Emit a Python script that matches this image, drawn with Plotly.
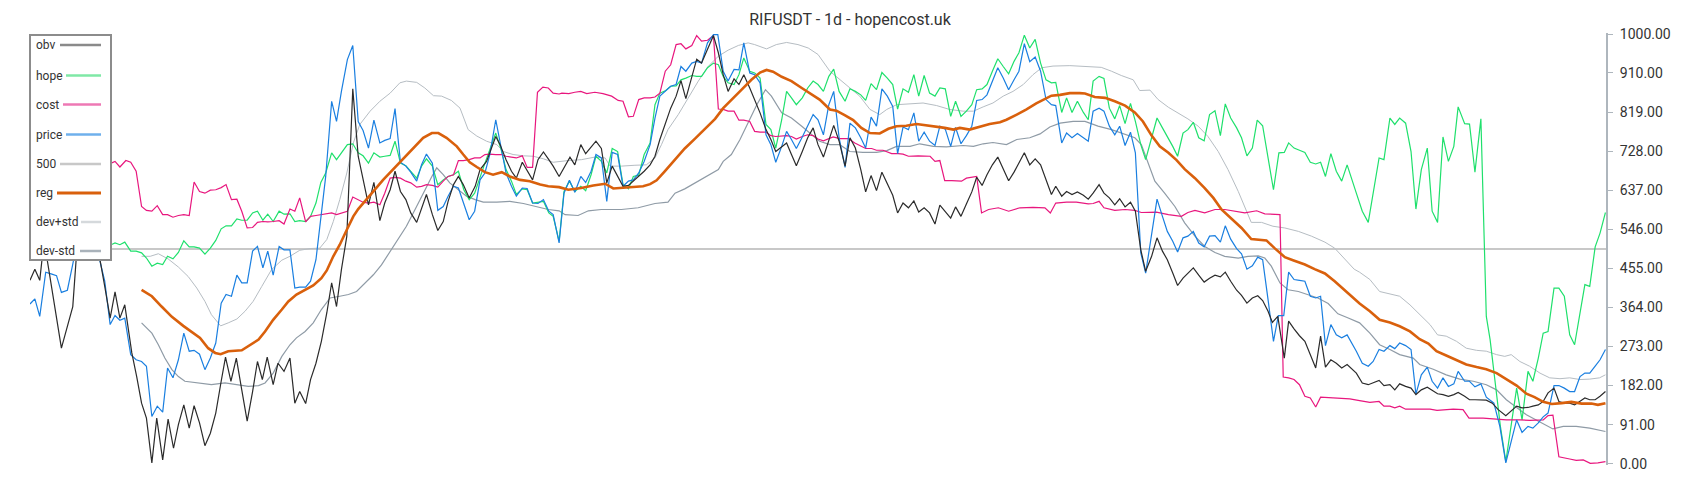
import plotly.graph_objects as go

# ---------------- data (day index, value on 0..1000 scale) ----------------
obv_day = [0,0.9,1.8,2.6,5.8,7.9,9,10,11,12,13.8,14.8,15.7,16.6,17.5,18.8,19.7,20.6,21.5,22.5,23.4,24.5,25.5,26.5,27.4,28.4,29.4,30.3,31.3,32.3,33.3,34.3,35.3,36.1,37.1,38.1,39.1,40.1,41.1,42,42.9,43.8,44.9,45.8,46.9,48,48.9,49.8,50.9,51.8,52.8,53.8,54.8,55.7,56.6,57.5,58.5,59.6,60.6,61.5,62.5,63.5,64.6,65.5,66.5,67.4,68.4,69.4,70.3,71.4,72.3,73.2,74.3,75.3,76.3,77.2,78.2,79.1,80,81.1,82.2,83.1,84.3,86,86.8,87.9,88.9,89.8,90.9,91.8,92.8,93.8,94.8,95.8,96.6,97.7,98.6,99.7,100.6,101.7,102.6,103.6,104.5,105.5,106.5,107.5,108.5,109.5,110.5,111.4,112.4,113.4,114.5,115.4,116.3,117.4,118.3,119.3,120.2,121.1,122.2,123.1,124,125.1,126.2,127.1,128,128.9,130,130.9,131.8,132.9,133.8,134.8,135.9,136.8,137.7,138.8,139.7,140.6,141.5,142.6,143.6,144.6,145.5,146.5,147.5,148.4,149.4,150.5,151.4,152.4,153.4,154.3,155.3,156.3,157.3,158.3,159.3,160.2,161.2,162.2,163.2,164.1,165.1,166.1,167.1,168,169,170,170.9,171.9,172.9,173.9,174.8,175.8,176.7,177.7,178.7,179.7,180.7,181.7,182.6,183.6,184.6,185.6,186.6,187.6,188.6,189.4,190.5,191.4,192.4,193.4,194.5,195.4,196.3,197.4,198.3,199.3,200.3,201.2,202.2,203.2,204.1,205.1,206,207.1,208.1,209.1,210,211,211.9,212.9,213.8,214.8,215.8,216.8,217.8,218.8,219.8,220.7,221.7,222.8,223.7,224.7,225.7,226.7,227.6,228.6,229.4,230.4,231.6,232.4,233.4,234.4,235.4,236.4,237.4,238.3,239.2,240.2,241.2,242.2,243.2,244.9,246,247.1,248,249.1,250,251.1,252,252.9,254,255,255.9,256.9,258,258.9,259.9,260.9,261.9,262.9,263.7,264.9,265.8,266.8,267.9,268.9,270,271.1,272.5,273.5,274.5,275.5,276.6,277.5,278.5,279.4,280.3,281.4,282.3,283.3,284.3,285.2,286.2,287.1,288,289,289.9,290.9]
obv = [427,453,427,520,269,366,560,620,600,540,413,339,400,339,370,258,203,141,106,2,106,9,104,36,91,137,83,135,95,42,71,118,192,248,192,246,172,99,168,238,196,248,184,234,215,246,141,168,140,196,234,285,351,421,366,452,530,873,716,661,603,655,566,607,638,681,634,615,584,562,595,627,580,543,564,611,650,669,650,619,646,685,704,762,743,708,681,665,702,681,661,708,726,708,693,669,689,714,696,743,722,738,751,734,654,693,669,646,648,658,669,681,696,716,755,793,828,856,892,850,898,942,933,964,997,957,906,867,896,883,906,875,848,817,778,755,727,739,747,720,694,727,759,782,743,714,751,788,751,693,759,735,685,633,671,636,679,650,625,584,607,596,612,586,596,584,558,602,588,572,598,576,605,633,667,648,673,696,714,687,659,679,699,724,696,710,696,661,627,646,623,634,627,633,625,616,630,650,630,619,603,617,598,609,588,498,448,483,526,495,475,444,415,432,444,456,439,423,432,439,435,446,425,404,392,374,386,391,380,355,329,343,246,332,314,298,285,254,223,297,225,242,234,223,231,211,188,184,188,194,182,184,172,186,180,176,161,172,178,170,163,161,157,161,166,157,149,149,149,148,141,126,112,122,134,130,131,134,137,145,165,176,145,141,141,137,145,153,149,149,157,168]

hope_day = [0,3,6,9,12,15,15.7,16.6,17.5,18.6,19.6,20.6,21.5,22.5,23.5,24.5,25.4,26.4,27.4,28.4,29.4,30.3,31.3,32.3,33.3,34.3,35.3,36.2,37.2,38.2,39.1,40.1,41.1,42,43,43.9,44.9,46,46.9,48,48.9,49.8,50.9,51.8,52.8,53.7,54.6,55.7,56.6,57.5,58.6,59.6,60.6,61.5,62.5,63.5,64.6,65.5,66.5,67.4,68.4,69.4,70.3,71.4,72.3,73.2,74.3,75.3,76.3,77.2,78.2,79.1,80.1,81.1,82.1,83.1,84,84.9,86,87,87.9,88.9,89.8,90.9,91.8,92.8,93.8,94.8,95.8,96.6,97.7,98.6,99.6,100.6,101.7,102.6,103.6,104.5,105.5,106.5,107.5,108.5,109.5,110.5,111.4,112.4,113.4,114.5,115.4,116.3,117.4,118.3,119.3,120.2,121.1,122.2,123.1,124,125.1,126.2,127.1,128,128.9,130,130.9,131.8,132.9,133.8,134.8,135.9,136.8,137.7,138.8,139.7,140.6,141.5,142.6,143.6,144.6,145.5,146.5,147.5,148.4,149.4,150.5,151.4,152.4,153.4,154.3,155.3,156.3,157.3,158.3,159.3,160.2,161.2,162.2,163.2,164.1,165.1,166.1,167.1,168,169,170,170.9,171.9,172.9,173.9,174.8,175.8,176.7,177.7,178.7,179.7,180.7,181.7,182.6,183.6,184.6,185.6,186.6,187.6,188.6,189.4,190.5,191.4,192.4,193.4,194.5,195.4,196.3,197.4,198.3,199.3,200.3,201.2,202.2,203.2,204.1,205.1,206,207.1,208.1,209.1,210,211,211.9,212.9,213.8,214.8,215.8,216.8,217.8,218.8,219.8,220.7,221.7,222.8,223.7,224.7,225.7,226.6,227.6,228.6,229.6,230.6,231.6,232.4,233.4,234.4,235.4,236.4,237.4,238.3,239.2,240.2,241.2,242.2,243.2,244.9,246,247.1,248,249.1,250,251.1,252,252.9,254,255,255.9,256.9,258,258.9,259.9,260.9,261.9,262.9,263.7,264.9,265.8,266.8,267.9,268.9,269.6,270.7,271.5,272.5,273.5,274.5,275.5,276.6,277.5,278.5,279.4,280.3,281.4,282.3,283.3,284.3,285.2,286.2,287.1,288,289,289.9,290.9]
hope = [520,530,515,525,520,510,514,510,516,495,495,491,479,460,467,464,483,477,492,519,505,505,502,488,502,520,547,554,554,570,567,567,584,588,567,581,564,588,581,582,564,566,564,576,607,655,677,724,708,724,743,745,724,717,700,724,714,716,718,751,700,694,682,665,693,710,693,650,661,669,673,681,638,615,630,669,700,731,770,731,685,658,627,640,638,607,609,611,584,576,518,634,658,634,646,636,673,716,704,677,734,727,650,640,669,672,720,747,836,863,869,879,880,894,898,904,902,902,922,933,929,902,887,883,906,945,914,910,898,790,778,735,801,867,852,836,852,875,891,883,867,902,919,867,844,873,867,859,846,885,871,911,898,883,826,873,865,906,856,904,863,856,875,873,809,844,809,821,836,871,873,883,914,943,925,908,937,957,998,968,988,933,894,887,888,818,852,818,844,818,801,891,902,897,828,803,834,792,839,797,743,708,759,805,782,762,739,716,770,778,795,759,752,813,822,764,838,805,782,759,717,735,800,787,716,638,724,725,747,735,730,725,702,698,702,669,722,681,658,696,630,588,562,627,712,708,805,790,805,793,727,593,685,735,588,562,761,704,739,831,792,791,679,803,343,289,172,87,5,95,176,102,215,192,246,304,308,409,409,390,300,277,351,417,413,505,537,585]

cost_day = [0,3,6,9,12,15,15.7,16.6,17.7,18.6,19.6,20.6,21.5,22.5,23.5,24.5,25.4,26.4,27.4,28.4,29.4,30.3,31.3,32.3,33.3,34.3,35.3,36.2,37.2,38.2,39.1,40.1,41.1,42,43,43.9,44.9,46,46.9,48,48.9,49.8,50.9,51.8,52.8,53.7,54.6,55.7,56.6,57.5,58.6,59.6,60.6,61.5,62.5,63.5,64.6,65.5,66.5,67.4,68.4,69.4,70.3,71.4,72.3,73.2,74.3,75.3,76.3,77.2,78.2,79.1,80,81.1,82.1,83.1,84,84.9,86,87,87.9,88.9,89.8,90.9,91.8,92.8,93.7,94.7,95.7,96.6,97.7,98.2,99.5,100.6,101.7,102.8,104.3,105.8,107.4,108.6,109.5,110.5,111.4,112.4,113.4,114.5,115.4,116.3,117.3,118.3,119.3,120.2,121.1,122.2,123.1,124,125.1,126.2,127.1,128,128.9,130,130.9,131.8,132.9,133.8,134.8,135.9,136.8,137.7,138.8,139.7,140.6,141.5,142.6,143.6,144.6,145.5,146.5,148.3,149.5,151.1,152.3,154.3,155.4,156.3,157.5,159.1,160.3,161.2,162.2,164,166.2,167.1,168,168.9,170.2,172,172.9,174.8,175.7,177,178.8,180.7,182.8,185.2,187.4,188.4,189.4,191.4,193.2,195.4,196.3,197.4,198.3,200.3,202.2,204,205.2,208,210.2,212.6,213.8,215.1,216.9,218.8,220.6,222.5,224.3,226.5,228,230.8,231.4,232.4,233.4,234.4,235.4,236.4,237.4,238.3,240.3,242.2,243.7,245.5,247.4,249.1,250,251.1,252,252.9,254,256,258.5,259.8,261.5,262.8,264.6,265.7,268.3,270.8,272.6,275.1,276.9,279.4,280.3,281.2,282.3,284.3,285.5,286.8,288.1,289.5,290.9]
cost = [700,705,690,700,705,700,704,691,706,702,681,599,590,588,601,580,580,574,578,580,578,656,634,630,637,638,643,650,615,616,588,549,550,562,564,563,564,566,558,593,588,619,563,576,578,580,582,584,580,584,588,621,615,609,607,609,603,630,665,667,665,658,654,644,646,650,648,644,658,669,673,706,706,708,712,712,720,721,720,720,716,714,712,717,690,690,865,877,875,863,861,863,862,865,867,862,865,862,856,846,844,808,809,848,852,852,854,863,914,929,976,978,966,974,997,984,986,997,826,825,821,821,800,800,797,774,772,772,764,762,764,764,762,756,762,766,764,756,752,761,757,757,747,734,734,730,730,722,722,721,716,717,716,704,706,659,659,658,665,669,584,592,596,588,596,597,596,584,607,609,609,605,606,611,596,590,592,590,585,586,580,576,585,590,584,592,592,588,584,589,582,580,202,200,196,184,157,153,132,155,153,151,151,147,143,145,134,134,130,134,127,127,127,124,126,127,126,106,106,104,102,102,101,102,112,113,16,11,8,9,1,2,5]

price_day = [0,0.9,1.8,2.9,3.9,4.9,5.8,6.9,7.9,9,10,11,12,13.8,14.8,15.7,16.6,17.5,18.6,19.6,20.6,21.5,22.5,23.5,24.5,25.4,26.4,27.4,28.4,29.4,30.3,31.3,32.3,33.3,34.3,35.3,36.2,37.2,38.2,39.1,40.1,41.1,42,43,43.9,44.9,46,46.9,48,48.9,49.8,50.9,51.8,52.8,53.7,54.6,55.7,56.6,57.5,58.6,59.6,60.6,61.5,62.5,63.5,64.6,65.5,66.5,67.4,68.4,69.4,70.3,71.4,72.3,73.2,74.3,75.3,76.3,77.2,78.2,79.1,80.1,81.1,82.1,83.1,84,84.9,86,87,87.9,88.9,89.8,90.9,91.8,92.8,93.8,94.8,95.8,96.6,97.7,98.6,99.6,100.6,101.7,102.6,103.6,104.5,105.5,106.5,107.5,108.5,109.5,110.5,111.4,112.4,113.4,114.5,115.4,116.3,117.4,118.3,119.3,120.2,121.1,122.2,123.1,124,125.1,126.2,127,128,128.9,130,130.9,131.8,132.9,133.8,134.8,135.9,136.8,137.7,138.8,139.7,140.6,141.5,142.6,143.6,144.6,145.5,146.5,147.5,148.4,149.4,150.5,151.4,152.4,153.4,154.3,155.3,156.3,157.3,158.3,159.3,160.2,161.2,162.2,163.2,164.1,165.1,166.1,167.1,168,169,170,170.9,171.9,172.9,173.9,174.8,175.8,176.7,177.7,178.7,179.7,180.7,181.7,182.6,183.6,184.6,185.6,186.6,187.6,188.6,189.4,190.5,191.4,192.4,193.4,194.5,195.4,196.3,197.4,198.3,199.3,200.3,201.2,202.2,203.2,204.1,205.1,206,207.1,208.1,209.1,210,211,211.9,212.9,213.8,214.8,215.8,216.8,217.8,218.8,219.8,220.7,221.7,222.8,223.7,224.7,225.7,226.7,227.6,228.6,229.6,230.5,231.5,232.4,233.4,234.4,235.4,236.4,237.4,238.3,239.2,240.2,241.2,242.2,243.2,244.9,246,247.1,248,249.1,250,251.1,252,252.9,254,255,255.9,256.9,258,258.9,259.9,260.9,261.9,262.9,263.7,264.9,265.8,266.8,267.9,268.9,270.3,271.4,272.5,273.5,274.5,275.5,276.6,277.5,278.5,279.4,280.3,281.4,282.3,283.3,284.3,285.2,286.2,287.1,288,289,289.9,290.9]
price = [372,384,343,446,442,438,399,404,465,540,600,580,520,425,324,345,334,339,254,242,238,227,110,134,120,223,200,242,304,262,264,255,219,246,281,374,394,390,439,421,421,495,506,456,495,439,506,498,498,409,411,411,425,475,580,669,844,797,867,941,974,797,776,735,800,747,753,757,827,702,693,679,658,696,721,700,590,599,623,646,642,607,568,588,661,677,720,801,731,677,646,623,642,641,607,606,615,588,580,514,630,660,632,669,655,681,720,712,611,725,720,646,658,661,677,704,743,805,856,870,879,883,925,914,933,937,933,980,999,999,914,891,918,917,980,910,906,887,766,743,702,739,774,755,734,761,787,813,801,766,836,867,759,690,793,782,759,735,807,786,873,856,832,722,784,778,817,751,772,751,741,786,779,739,783,745,764,786,846,848,859,891,922,898,871,894,914,978,936,947,914,848,836,834,747,770,759,769,759,751,821,828,821,786,766,786,741,772,724,491,444,530,616,576,541,518,493,526,530,541,514,505,530,531,516,554,523,501,489,453,461,481,475,382,285,345,345,446,429,427,425,390,386,390,275,324,300,293,300,262,234,227,238,266,262,275,268,281,275,266,162,207,225,192,176,200,180,186,215,192,192,179,186,155,141,87,2,52,102,73,87,83,95,109,118,182,182,176,168,168,203,211,211,227,242,266]

level_day = [0, 291]
level_500 = [500, 500]

reg_day = [20.6,22.5,24.3,26.2,28.3,29.8,31.4,32.9,34.2,35.2,36.6,39.1,40.3,42.2,43.4,44.9,46.5,47.7,49.2,50.8,52.3,53.8,54.8,56,57.2,58.5,59.7,60.6,61.5,63.4,65.2,67.1,68.9,70.8,72.6,74.2,75.4,76.9,78.8,80,81.2,82.5,84,85.5,87.1,88.6,90.5,92.3,94.2,95.7,97.7,99.4,101.8,104,106.2,107.7,109.2,111.1,113.2,114.5,115.7,117.2,119.1,120.9,122.8,124.6,126.5,128,129.5,131.4,133.2,134.8,136,137.2,138.8,140.6,142.5,144.3,145.8,147.7,148.9,150.5,152,153.5,155.1,156.9,158.5,160,161.8,163.7,165.5,167.4,168.9,170.5,171.7,173.5,175.4,177.2,179.1,180.3,182.2,184,185.8,187.1,188.6,190.2,192,193.8,194.8,196.6,198.5,200.3,202.2,204,205.5,207.1,208.6,210.2,211.7,213.2,215.1,216.9,218.5,220,221.8,223.7,225.5,227.1,228.3,229.8,231.7,233.2,235.4,237.2,239.1,240.9,242.8,243.7,245.5,247.4,249.2,251.1,252.9,254.8,256.6,258.2,259.7,261.5,263.4,265.2,267.1,268.9,270.8,272.6,274.5,276.3,277.8,279.4,281,282.8,284.6,286.5,288.3,289.5,290.9]
reg = [405,390,366,342,321,308,293,269,258,255,262,264,273,289,308,335,359,378,394,404,415,432,450,483,510,545,576,593,607,634,661,686,712,735,759,770,770,759,739,720,702,691,679,673,679,669,661,658,650,646,644,638,642,648,652,641,642,644,646,651,660,681,708,734,757,780,803,828,846,871,894,911,917,913,901,891,875,860,848,825,822,811,800,782,770,769,780,786,787,791,788,786,782,778,782,778,784,791,795,801,813,825,839,848,857,859,863,863,862,854,852,844,834,818,797,764,739,724,707,686,665,642,619,592,570,549,523,522,520,502,481,474,464,453,443,425,404,394,373,355,335,329,320,308,290,280,262,252,241,231,225,220,211,197,182,163,155,144,139,141,144,140,140,137,141]

up_day = [20.6,22.2,23.7,25.5,27.4,29.2,30.8,32.3,33.5,35.2,36.6,38.2,39.7,41.2,42.8,44.6,46.5,48,49.8,51.7,53.5,54.8,56,57.2,58.5,59.7,60.9,62.8,64.6,66.5,68.3,69.5,71.4,72.9,74.5,76,77.8,79.4,80.9,82.5,84.3,86.2,87.4,89.2,91.1,92.9,94.8,96.6,99.4,101.8,104.3,106.2,107.1,109.2,111.7,113.8,115.4,116.6,117.8,119.7,121.5,123.4,125.2,127.1,128.9,130.8,132.6,133.8,136,137.8,139.7,141.8,143.7,145.5,147.7,149.5,151.4,153.2,155.1,156.9,158.2,160,162.5,164.9,167.4,169.8,172.3,174.2,176,177.8,179.7,181.5,183.4,185.2,186.8,188.9,192,195.6,197.8,199.7,201.5,203.7,204.9,206.8,208.3,210.2,212,213.8,215.7,217.5,219.4,221.2,223.1,224.3,225.5,227.4,229.5,231.7,234.2,236.6,239.1,240.9,242.8,244.5,245.5,247.4,249.2,251.1,252.9,254.8,256.6,258.5,259.9,261.5,263.4,265.2,267.1,268.9,270.8,272.3,273.5,275.1,276.9,278.8,280.6,282.5,284.3,286.2,288,289.8,290.9]
dev_up = [483,483,489,477,458,436,409,378,347,321,328,337,355,378,413,452,474,483,497,501,502,522,564,615,677,747,790,821,844,863,887,891,888,875,857,856,846,828,778,763,751,743,727,720,717,716,710,702,706,708,714,712,693,693,695,696,712,743,778,813,851,891,925,949,963,974,980,976,966,976,981,976,968,953,914,896,875,856,825,813,825,836,838,840,834,825,821,821,831,840,856,867,883,906,922,926,927,925,923,914,904,894,869,870,848,830,817,803,786,762,727,685,634,599,562,562,553,549,541,530,516,502,475,453,446,429,401,396,390,370,347,324,300,297,285,269,264,262,254,250,254,238,227,211,200,198,200,196,197,200,207]

lo_day = [20.6,22.5,23.7,24.9,26.2,27.4,28.6,31.1,33.5,36,38.5,40.3,42.2,43.4,44.9,46.5,48,49.2,50.8,52.3,53.8,55.4,57.2,58.8,60.3,61.8,63.4,64.9,66.5,68,69.5,71.1,72.6,74.2,75.1,76.3,77.5,79.1,80.6,82.2,83.7,86.2,88.6,91.1,93.5,95.7,97.7,98.8,101.2,103.1,105.5,109.2,112.3,115.4,117.8,119.1,120.9,122.8,125.2,127.1,128,129.5,131.1,132.6,134.2,135.8,136.9,138.8,140.6,142.5,144.3,145.8,147.7,149.5,151.4,153.8,156.3,158.2,160,162.5,164.3,166.8,169.2,171.1,172.3,174.2,176,177.8,180.3,182.2,184.6,186.5,188.3,190.2,192.6,194.8,197.2,199.7,202.2,204,205.2,206.5,207.7,209.5,211.4,213.2,215.1,216.9,218.8,220.6,223.1,224.9,226.8,228,229.2,230.8,232.3,234.2,236,237.8,239.7,241.5,243.3,245.5,247.4,249.2,251.1,252.9,255.4,256.6,259.1,261.5,264,266.5,268.9,270.8,272.6,274.5,276.3,278.2,280,281.2,283.1,285.5,288,290.9]
dev_lo = [328,304,277,246,219,203,192,188,184,188,184,180,182,188,211,250,277,293,308,328,359,386,390,394,401,421,440,463,495,526,553,592,630,669,689,673,654,638,623,615,609,609,611,606,599,592,589,580,578,589,592,592,596,606,609,630,640,654,673,685,704,720,755,793,836,871,856,817,805,786,766,751,743,743,727,725,725,729,739,739,745,739,738,739,741,739,745,748,743,755,759,768,784,793,797,797,786,778,766,759,743,700,658,630,599,561,530,506,492,483,479,483,484,479,460,421,405,401,394,386,373,349,340,328,304,277,266,254,246,231,220,207,197,192,184,172,149,130,114,101,89,81,87,87,83,75]

tick_vals = [0, 91, 182, 273, 364, 455, 546, 637, 728, 819, 910, 1000]
tick_text = ["%.2f" % v for v in tick_vals]

series_names = ["obv", "hope", "cost", "price", "500", "reg", "dev+std", "dev-std"]

# ---------------- styles ----------------
FONT = "Roboto, 'Noto Sans', sans-serif"
C_OBV, C_HOPE, C_COST, C_PRICE = "#2b2b2b", "#1fe06c", "#e8177e", "#1a7fe0"
C_500, C_REG, C_UP, C_LO = "#c8c8c8", "#d9600c", "#b6bdc3", "#8f9ba6"

fig = go.Figure()

def add(x, y, color, width):
    fig.add_trace(go.Scatter(x=x, y=y, mode="lines", line=dict(color=color, width=width),
                             hoverinfo="skip", showlegend=False))

add(level_day, level_500, C_500, 2)
add(up_day, dev_up, C_UP, 1)
add(lo_day, dev_lo, C_LO, 1.2)
add(hope_day, hope, C_HOPE, 1.2)
add(cost_day, cost, C_COST, 1.2)
add(price_day, price, C_PRICE, 1.2)
add(obv_day, obv, C_OBV, 1.2)
add(reg_day, reg, C_REG, 2.6)

# ---------------- layout ----------------
# the page body has an 8px margin; figure sized so page stays 1700x500
OFF = 8
W, H = 1700 - 2 * OFF, 500 - 2 * OFF
ML, MR, MT, MB = 30 - OFF, 86, 33 - OFF, 27
PW, PH = W - ML - MR, H - MT - MB

def px2x(px):          # page pixel -> paper x
    return (px - OFF - ML) / PW

def py2y(py):          # page pixel -> paper y
    return (H - MB - (py - OFF)) / PH

shapes = [dict(type="rect", xref="paper", yref="paper",
               x0=px2x(30), x1=px2x(111), y0=py2y(260), y1=py2y(35),
               line=dict(color="#8c8c8c", width=2), fillcolor="white", layer="above")]
annotations = []
leg_rows = [45, 75.5, 104.5, 134.5, 164, 193, 222, 251]
leg_start = [60, 66, 63, 66, 60, 57, 81, 80]
leg_colors = ["#8a8a8a", "#7fe8a6", "#ee78b4", "#6fb0ec", "#c8c8c8", "#d9600c", "#d5d9dc", "#a9b2ba"]
leg_widths = [2.5, 2.5, 2.5, 2.5, 2.5, 3, 2.5, 2.5]
for name, yy, xs, col, lw in zip(series_names, leg_rows, leg_start, leg_colors, leg_widths):
    annotations.append(dict(xref="paper", yref="paper", x=px2x(34), y=py2y(yy),
                            xanchor="left", yanchor="middle", text=name, showarrow=False,
                            font=dict(family=FONT, size=12, color="#333333")))
    shapes.append(dict(type="line", xref="paper", yref="paper",
                       x0=px2x(xs), x1=px2x(101), y0=py2y(yy), y1=py2y(yy),
                       line=dict(color=col, width=lw), layer="above"))

fig.update_layout(
    width=W, height=H,
    margin=dict(l=ML, r=MR, t=MT, b=MB),
    paper_bgcolor="white", plot_bgcolor="white",
    title=dict(text="RIFUSDT - 1d - hopencost.uk", x=(850 - OFF) / W, xref="container",
               xanchor="center", y=1 - (19.5 - OFF) / H, yref="container", yanchor="middle",
               font=dict(family=FONT, size=16, color="#333333")),
    showlegend=False,
    hovermode=False,
    xaxis=dict(visible=False, range=[0, 291], fixedrange=True),
    yaxis=dict(side="right", range=[-3, 1003], tickvals=tick_vals, ticktext=tick_text,
               showline=True, linecolor="#aeb6bd", linewidth=2,
               ticks="outside", ticklen=5, tickcolor="#aeb6bd", tickwidth=1,
               ticklabelstandoff=4,
               showgrid=False, zeroline=False,
               tickfont=dict(family=FONT, size=14, color="#333333")),
    shapes=shapes,
    annotations=annotations,
)

fig.write_html("out.html", config={"displayModeBar": False})
